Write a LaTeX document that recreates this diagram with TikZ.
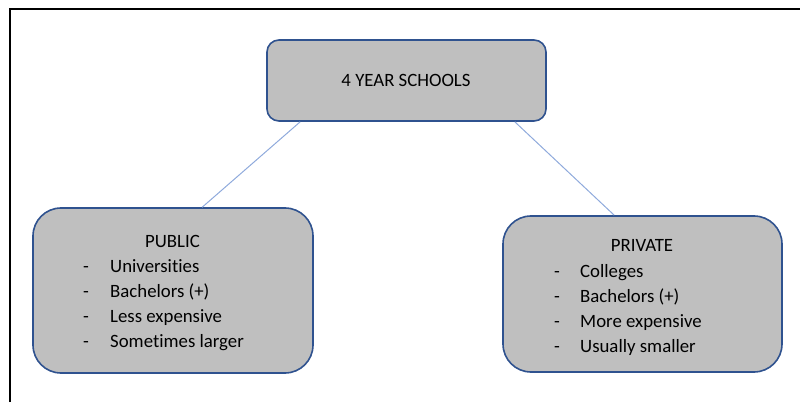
\documentclass[tikz,border=0pt]{standalone}
\usepackage{fontspec}
\setmainfont[Ligatures=NoCommon]{Carlito}
\definecolor{boxfill}{HTML}{BFBFBF}
\definecolor{boxdraw}{HTML}{2F528F}
\definecolor{linkcol}{HTML}{8FAADC}
\tikzset{
  boxnode/.style={draw=boxdraw, fill=boxfill, line width=1.6pt, inner sep=0pt},
  txt/.style={anchor=base west, inner sep=0pt, font=\fontsize{18.8}{22}\selectfont},
  ctxt/.style={anchor=base, inner sep=0pt, font=\fontsize{18.8}{22}\selectfont},
  link/.style={draw=linkcol, line width=1pt},
  frameline/.style={draw=black, line width=2.8pt}
}
\begin{document}
\begin{tikzpicture}[x=1pt,y=1pt]
\useasboundingbox (0,0) rectangle (800,402);
% frame
\coordinate (fa) at (10,0);
\coordinate (fb) at (10,393);
\coordinate (fc) at (801,393);
\draw[frameline] (fa) -- (fb) -- (fc);
% boxes
\node[boxnode, rounded corners=12pt, minimum width=279pt, minimum height=81pt] (top) at (406.5,321.5) {};
\node[boxnode, rounded corners=28pt, minimum width=280pt, minimum height=165pt] (left) at (173,111.5) {};
\node[boxnode, rounded corners=28pt, minimum width=279pt, minimum height=156pt] (right) at (642.5,108) {};
% connectors
\coordinate (t1) at ([xshift=34pt]top.south west);
\coordinate (l1) at ([xshift=170pt]left.north west);
\coordinate (t2) at ([xshift=-32pt]top.south east);
\coordinate (r1) at ([xshift=112pt]right.north west);
\draw[link] (t1) -- (l1);
\draw[link] (t2) -- (r1);
% texts
\node[ctxt] (ttl) at (406,315) {4 YEAR SCHOOLS};
\node[ctxt] (pub) at (172.5,155) {PUBLIC};
\node[txt] (pd1) at (83,130) {-};
\node[txt] (pd2) at (83,105) {-};
\node[txt] (pd3) at (83,80) {-};
\node[txt] (pd4) at (83,55) {-};
\node[txt] (p1) at (110,130) {Universities};
\node[txt] (p2) at (110,105) {Bachelors (+)};
\node[txt] (p3) at (110,80) {Less expensive};
\node[txt] (p4) at (110,55) {Sometimes larger};
\node[ctxt] (pri) at (642,150) {PRIVATE};
\node[txt] (qd1) at (554,125) {-};
\node[txt] (qd2) at (554,100) {-};
\node[txt] (qd3) at (554,75) {-};
\node[txt] (qd4) at (554,50) {-};
\node[txt] (q1) at (580,125) {Colleges};
\node[txt] (q2) at (580,100) {Bachelors (+)};
\node[txt] (q3) at (580,75) {More expensive};
\node[txt] (q4) at (580,50) {Usually smaller};
\end{tikzpicture}
\end{document}
